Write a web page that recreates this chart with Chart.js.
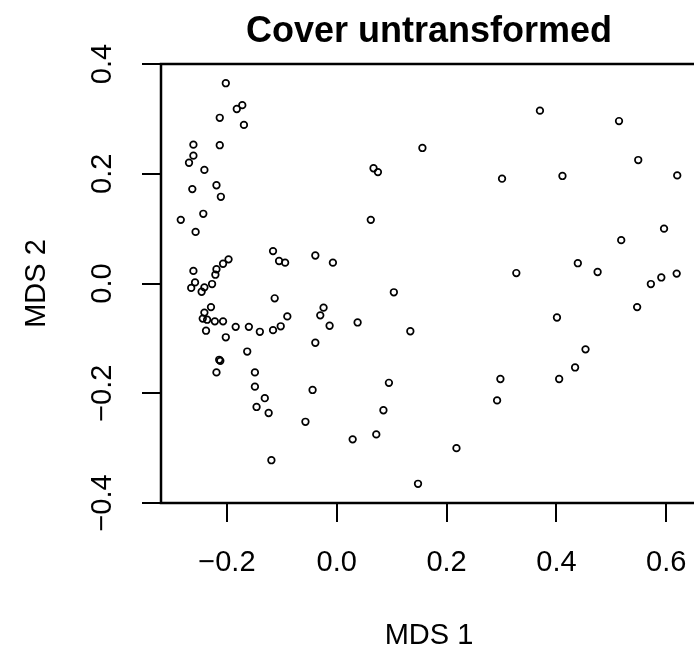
<!DOCTYPE html>
<html>
<head>
<meta charset="utf-8">
<script src="https://cdn.jsdelivr.net/npm/chart.js@4.4.1/dist/chart.umd.min.js"></script>
<style>
  html, body { margin: 0; padding: 0; background: #fff; overflow: hidden; width: 694px; height: 655px; }
  canvas { display: block; }
</style>
</head>
<body>
<canvas id="grafica" width="710" height="655" style="width:710px;height:655px"></canvas>
<script>
const titulo = 'Cover untransformed';
const etiquetaX = 'MDS 1';
const etiquetaY = 'MDS 2';

const marcasX = [-0.2, 0.0, 0.2, 0.4, 0.6];
const marcasY = [-0.4, -0.2, 0.0, 0.2, 0.4];

const mds1 = [
  -0.202, -0.172, -0.182, -0.213, -0.169, -0.261, -0.213, -0.261, -0.269, -0.241,
  -0.263, -0.219, -0.211, -0.243, -0.284, -0.257, -0.116, -0.105, -0.094, -0.039,
  -0.007, -0.197, -0.207, -0.219, -0.221, -0.261, -0.258, -0.227, -0.241, -0.265,
  -0.246, -0.113, -0.229, -0.241, -0.244, -0.236, -0.222, -0.207, -0.238, -0.184,
  -0.160, -0.140, -0.116, -0.102, -0.090, -0.024, -0.030, -0.013, -0.202, -0.039,
  -0.163, -0.214, -0.212, -0.219, -0.149, -0.149, -0.131, -0.146, -0.124, -0.044,
  -0.057, -0.119, 0.156, 0.067, 0.075, 0.301, 0.062, 0.104, 0.038, 0.134,
  0.095, 0.085, 0.029, 0.072, 0.148, 0.218, 0.298, 0.292, 0.370, 0.514,
  0.549, 0.620, 0.411, 0.596, 0.518, 0.327, 0.439, 0.475, 0.572, 0.591,
  0.619, 0.547, 0.401, 0.453, 0.405, 0.434
];
const mds2 = [
  0.365, 0.325, 0.318, 0.302, 0.289, 0.253, 0.252, 0.233, 0.220, 0.207,
  0.172, 0.179, 0.158, 0.127, 0.116, 0.094, 0.059, 0.041, 0.038, 0.051,
  0.038, 0.044, 0.036, 0.026, 0.016, 0.023, 0.002, -0.001, -0.007, -0.008,
  -0.015, -0.027, -0.043, -0.053, -0.064, -0.066, -0.069, -0.069, -0.086, -0.079,
  -0.079, -0.088, -0.085, -0.078, -0.060, -0.044, -0.058, -0.077, -0.098, -0.108,
  -0.124, -0.139, -0.141, -0.162, -0.162, -0.188, -0.209, -0.225, -0.236, -0.194,
  -0.252, -0.322, 0.247, 0.210, 0.203, 0.191, 0.116, -0.016, -0.071, -0.087,
  -0.181, -0.231, -0.284, -0.275, -0.365, -0.300, -0.174, -0.213, 0.315, 0.296,
  0.225, 0.197, 0.196, 0.100, 0.079, 0.019, 0.037, 0.021, -0.001, 0.011,
  0.018, -0.043, -0.062, -0.120, -0.174, -0.153
];

const puntos = mds1.map((x, i) => ({ x: x, y: mds2[i] }));

const fuente = '"Liberation Sans", Arial, Helvetica, sans-serif';

function fmt(v) {
  return (v < 0 ? '\u2212' : '') + Math.abs(v).toFixed(1);
}

// texto al estilo de R: marco, etiquetas de las marcas, títulos
const textosR = {
  id: 'textosR',
  afterDraw(chart) {
    const ctx = chart.ctx;
    const area = chart.chartArea;
    const sx = chart.scales.x;
    const sy = chart.scales.y;
    ctx.save();
    ctx.strokeStyle = '#000';
    ctx.lineWidth = 2.5;
    ctx.strokeRect(area.left, area.top, area.right - area.left, area.bottom - area.top);

    ctx.fillStyle = '#000';
    ctx.font = '29px ' + fuente;
    ctx.textAlign = 'center';
    ctx.textBaseline = 'alphabetic';
    marcasX.forEach(v => {
      ctx.fillText(fmt(v), sx.getPixelForValue(v), area.bottom + 68);
    });
    ctx.fillText(etiquetaX, (area.left + area.right) / 2, area.bottom + 141);

    marcasY.forEach(v => {
      ctx.save();
      ctx.translate(area.left - 50, sy.getPixelForValue(v));
      ctx.rotate(-Math.PI / 2);
      ctx.fillText(fmt(v), 0, 0);
      ctx.restore();
    });
    ctx.save();
    ctx.translate(area.left - 116, (area.top + area.bottom) / 2);
    ctx.rotate(-Math.PI / 2);
    ctx.fillText(etiquetaY, 0, 0);
    ctx.restore();

    ctx.font = 'bold 36px ' + fuente;
    ctx.fillText(titulo, (area.left + area.right) / 2, area.top - 22);
    ctx.restore();
  }
};

new Chart(document.getElementById('grafica'), {
  type: 'scatter',
  data: {
    datasets: [{
      label: etiquetaY,
      data: puntos,
      pointStyle: 'circle',
      pointRadius: 3.3,
      pointHoverRadius: 3.3,
      pointBorderWidth: 1.7,
      pointBorderColor: '#000',
      pointBackgroundColor: 'rgba(0,0,0,0)',
    }],
  },
  options: {
    responsive: false,
    devicePixelRatio: 1,
    animation: false,
    events: [],
    layout: { padding: { left: 0, right: 13, top: 64, bottom: 0 } },
    plugins: { legend: { display: false }, tooltip: { enabled: false }, title: { display: false } },
    scales: {
      x: {
        type: 'linear',
        min: -0.32,
        max: 0.656,
        afterBuildTicks: s => { s.ticks = marcasX.map(v => ({ value: v })); },
        afterFit: s => { s.height = 152; },
        ticks: { display: false },
        border: { display: false },
        grid: { drawOnChartArea: false, drawTicks: true, tickLength: 19, color: '#000', lineWidth: 2 },
      },
      y: {
        type: 'linear',
        min: -0.4,
        max: 0.4,
        afterBuildTicks: s => { s.ticks = marcasY.map(v => ({ value: v })); },
        afterFit: s => { s.width = 161; },
        ticks: { display: false },
        border: { display: false },
        grid: { drawOnChartArea: false, drawTicks: true, tickLength: 19, color: '#000', lineWidth: 2 },
      },
    },
  },
  plugins: [textosR],
});
</script>
</body>
</html>
